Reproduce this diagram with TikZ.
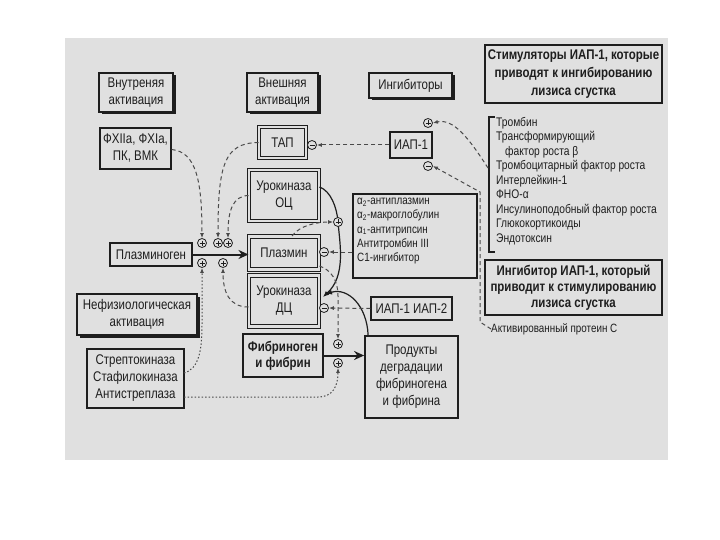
\documentclass[tikz,border=0pt]{standalone}
\usepackage{fontspec}
\setmainfont{Liberation Sans}[FakeStretch=0.82]
\usetikzlibrary{arrows.meta,shadows}
\definecolor{bg}{HTML}{E0E0E0}
\definecolor{ink}{HTML}{1E1E1E}
\definecolor{dshc}{HTML}{4A4A4A}
\begin{document}
\begin{tikzpicture}[x=1pt,y=-1pt,
  box/.style={draw=ink, line width=1.4pt, fill=bg, align=center, inner sep=1pt, text=ink, font=\fontsize{14}{17}\selectfont},
  shbox/.style={box, drop shadow={shadow xshift=2.5pt, shadow yshift=-2.5pt, fill=ink, opacity=1}},
  dbox/.style={box, line width=1pt, double=bg, double distance=2.2pt},
  sgn/.style={circle, draw=ink, fill=bg, inner sep=0pt, minimum size=9pt, line width=0.8pt},
  plus/.style={sgn, path picture={\draw[line width=0.7pt]
     ([xshift=2pt]path picture bounding box.west) -- ([xshift=-2pt]path picture bounding box.east)
     ([yshift=-2pt]path picture bounding box.north) -- ([yshift=2pt]path picture bounding box.south);}},
  minus/.style={sgn, path picture={\draw[line width=0.7pt]
     ([xshift=2pt]path picture bounding box.west) -- ([xshift=-2pt]path picture bounding box.east);}},
  arr/.style={-{Latex[length=5pt,width=4pt]}},
  dsh/.style={draw=dshc, line width=1pt, dash pattern=on 4pt off 3pt},
  dot/.style={draw=dshc, line width=1pt, dash pattern=on 1.5pt off 2pt},
  solid arr/.style={draw=ink, line width=1.2pt, -{Latex[length=6pt,width=5pt]}},
  thick arr/.style={draw=ink, line width=2pt, -{Stealth[length=10pt,width=9pt]}},
  lst/.style={align=left, inner sep=0pt, text=ink},
]
\useasboundingbox (0,0) rectangle (720,540);
\fill[white] (0,0) rectangle (720,540);
\fill[bg] (65,38) rectangle (668,460);

% headers
\node[shbox, minimum width=74pt, minimum height=39pt] (vnutr) at (136,92.5) {Внутреняя\\активация};
\node[shbox, minimum width=71pt, minimum height=39pt] (vnesh) at (282.5,92.5) {Внешняя\\активация};
\node[shbox, minimum width=83pt, minimum height=25pt] (ingib) at (410.5,85.5) {Ингибиторы};
\node[box, line width=2pt, minimum width=177pt, minimum height=58pt, font=\bfseries\fontsize{14}{18}\selectfont] (stim) at (573.5,74) {Стимуляторы ИАП-1, которые\\приводят к ингибированию\\лизиса сгустка};

% left column
\node[box, minimum width=71pt, minimum height=41pt] (fx) at (135.5,148.5) {ФХIIa, ФХIa,\\ПК, ВМК};
\node[box, minimum width=82pt, minimum height=23pt] (plg) at (151,254.5) {Плазминоген};
\node[shbox, minimum width=120pt, minimum height=41pt] (nefiz) at (137,314.5) {Нефизиологическая\\активация};
\node[box, minimum width=97pt, minimum height=59pt] (strep) at (135.5,378.5) {Стрептокиназа\\Стафилокиназа\\Антистреплаза};

% middle column
\node[dbox, minimum width=47pt, minimum height=31pt] (tap) at (282.5,142.5) {ТАП};
\node[dbox, minimum width=70pt, minimum height=51pt] (uoc) at (284,195.5) {Урокиназа\\ОЦ};
\node[dbox, minimum width=70pt, minimum height=33pt] (plasmin) at (284,253) {Плазмин};
\node[dbox, minimum width=70pt, minimum height=51pt] (udc) at (284,301) {Урокиназа\\ДЦ};
\node[box, line width=2.4pt, minimum width=80pt, minimum height=43pt, font=\bfseries\fontsize{14}{16}\selectfont] (fibr) at (283,355.5) {Фибриноген\\и фибрин};

% inhibitor column
\node[box, minimum width=42pt, minimum height=26pt] (iap1) at (411,145) {ИАП-1};
\node[box, minimum width=124pt, minimum height=84pt] (alpha) at (415,236) {};
\node[lst, anchor=north west, font=\fontsize{12}{14.2}\selectfont] (alphatxt) at (357,198) {α\textsubscript{2}-антиплазмин\\α\textsubscript{2}-макроглобулин\\α\textsubscript{1}-антитрипсин\\Антитромбин III\\С1-ингибитор};
\node[box, minimum width=81pt, minimum height=23pt] (iap12) at (411.5,308.5) {ИАП-1 ИАП-2};
\node[box, line width=1.8pt, minimum width=93pt, minimum height=82pt, font=\fontsize{14}{17}\selectfont] (prod) at (411.5,377) {Продукты\\деградации\\фибриногена\\и фибрина};

% right column
\draw[ink, line width=1.3pt] (495,117) -- (489,117) -- (489,252) -- (495,252);
\node[lst, anchor=north west, font=\fontsize{12.5}{14.5}\selectfont] (list) at (496,117) {Тромбин\\Трансформирующий\\\hspace*{9pt}фактор роста β\\Тромбоцитарный фактор роста\\Интерлейкин-1\\ФНО-α\\Инсулиноподобный фактор роста\\Глюкокортикоиды\\Эндотоксин};
\node[box, line width=2pt, minimum width=177pt, minimum height=55pt, font=\bfseries\fontsize{14}{16}\selectfont] (ingiap) at (573.5,287.5) {Ингибитор ИАП-1, который\\приводит к стимулированию\\лизиса сгустка};
\node[lst, anchor=west, font=\fontsize{12}{14}\selectfont] (apc) at (491,329) {Активированный протеин С};

% main solid curves (drawn before signs)
\draw[solid arr] ([yshift=8.5pt]uoc.east) .. controls (331,191) and (337,208) .. (338,222) .. controls (340,245) and (346,276) .. (323,297);
\draw[solid arr] ([xshift=4pt]prod.north west) .. controls (367,306) and (348,287) .. (326,294);

% signs
\node[plus] (p1) at (202,243) {};
\node[plus] (p2) at (218,243) {};
\node[plus] (p3) at (228,243) {};
\node[plus] (p4) at (202,263) {};
\node[plus] (p5) at (223,263) {};
\node[minus] (mtap) at (312,145) {};
\node[plus] (piap) at (428,123) {};
\node[minus] (miap) at (428,166) {};
\node[plus] (pok) at (338,222) {};
\node[minus] (mpl) at (324,252) {};
\node[minus] (mdc) at (324,308) {};
\node[plus] (pf1) at (338,344) {};
\node[plus] (pf2) at (338,363) {};

% thick arrows
\draw[thick arr] (plg.east) -- (plasmin.west |- plg.east);
\draw[thick arr] (fibr.east) -- (prod.west |- fibr.east);

% activation connectors
\draw[dsh, arr] ([yshift=-1pt]fx.east) .. controls (196,152) and (202,180) .. (p1.north);
\draw[dsh, arr] (tap.west) .. controls (224,143) and (218,165) .. (p2.north);
\draw[dsh, arr] (uoc.west) .. controls (233,196) and (228,210) .. (p3.north);
\coordinate (s1) at (184,373);
\draw[dot, arr] (s1) .. controls (199,369) and (202,350) .. (202,325) -- (p4.south);
\draw[dsh, arr] ([yshift=-6pt]udc.west) .. controls (229,307) and (223,292) .. (p5.south);
\draw[dsh, arr] ([xshift=8pt]plasmin.north) .. controls (300,225) and (318,222) .. (pok.west);
\draw[dsh, arr] ([yshift=-13pt]plasmin.east) .. controls (331,270) and (338,280) .. (338,296) -- (pf1.north);
\coordinate (s3) at (184,397);
\draw[dot, arr] (s3) -- (318,397) .. controls (333,397) and (338,386) .. (pf2.south);

% inhibition connectors
\draw[dsh, arr] (iap1.west) -- (mtap.east);
\draw[dsh, arr] (alpha.west |- mpl.east) -- (mpl.east);
\draw[dsh, arr] (iap12.west) -- (mdc.east);

% IAP-1 regulation
\coordinate (br) at (488,168);
\draw[dsh, arr] (br) .. controls (470,140) and (454,118) .. (piap.east);
\draw[dsh, arr] (apc.west) -- (480,322) -- (480,192) -- (miap.east);
\end{tikzpicture}
\end{document}
